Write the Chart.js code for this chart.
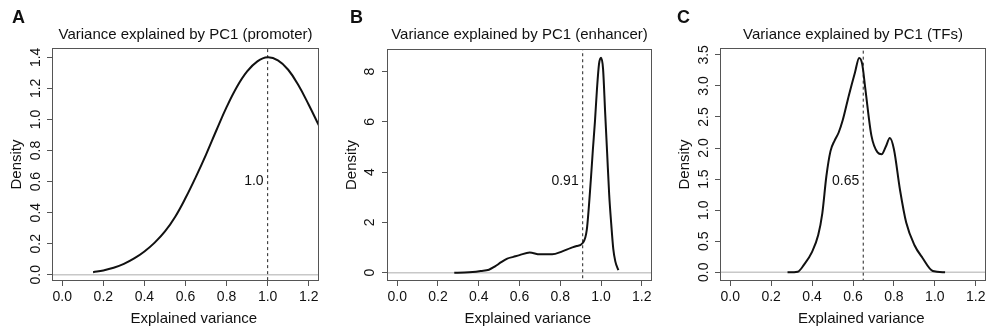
<!DOCTYPE html>
<html>
<head>
<meta charset="utf-8">
<script src="https://cdn.jsdelivr.net/npm/chart.js@4.4.1/dist/chart.umd.min.js"></script>
<style>
  body { margin: 0; background: #fff; }
  #wrap { position: relative; width: 990px; height: 332px; overflow: hidden; }
  .panel { position: absolute; top: 0; width: 330px; height: 332px; }
</style>
</head>
<body>
<div id="wrap">
  <div class="panel" style="left:0px"><canvas id="chartA"></canvas></div>
  <div class="panel" style="left:330px"><canvas id="chartB"></canvas></div>
  <div class="panel" style="left:660px"><canvas id="chartC"></canvas></div>
</div>
<script>
// data
const xTicks = [0, 0.2, 0.4, 0.6, 0.8, 1.0, 1.2];

const promoterX = [0.15, 0.2, 0.25, 0.3, 0.35, 0.4, 0.45, 0.5, 0.55, 0.6, 0.65, 0.7, 0.75, 0.8, 0.85, 0.9, 0.95, 1.0, 1.05, 1.1, 1.15, 1.2, 1.25];
const promoterY = [0.017, 0.028, 0.045, 0.07, 0.105, 0.15, 0.207, 0.279, 0.374, 0.494, 0.629, 0.774, 0.929, 1.079, 1.209, 1.309, 1.374, 1.40, 1.38, 1.32, 1.22, 1.095, 0.96];
const promoterTicks = [0, 0.2, 0.4, 0.6, 0.8, 1.0, 1.2, 1.4];

const enhancerX = [0.28, 0.33, 0.37, 0.41, 0.45, 0.48, 0.51, 0.54, 0.57, 0.60, 0.65, 0.70, 0.76, 0.81, 0.85, 0.88, 0.91, 0.93, 0.95, 0.96, 0.97, 0.98, 0.99, 1.00, 1.01, 1.02, 1.03, 1.04, 1.05, 1.06, 1.07, 1.085];
const enhancerY = [0, 0.01, 0.03, 0.07, 0.12, 0.25, 0.42, 0.56, 0.63, 0.70, 0.80, 0.73, 0.73, 0.85, 0.98, 1.06, 1.18, 1.7, 3.7, 4.9, 6.0, 7.3, 8.3, 8.55, 8.1, 6.4, 4.75, 3.1, 1.94, 0.95, 0.45, 0.1];
const enhancerTicks = [0, 2, 4, 6, 8];

const tfX = [0.28, 0.33, 0.36, 0.40, 0.43, 0.45, 0.47, 0.49, 0.51, 0.53, 0.55, 0.58, 0.61, 0.63, 0.645, 0.66, 0.69, 0.72, 0.74, 0.76, 0.78, 0.80, 0.83, 0.86, 0.90, 0.94, 0.99, 1.05];
const tfY = [0, 0.01, 0.12, 0.33, 0.6, 0.95, 1.55, 1.95, 2.12, 2.25, 2.45, 2.85, 3.22, 3.45, 3.35, 2.96, 2.2, 1.93, 1.9, 2.02, 2.16, 1.98, 1.32, 0.8, 0.44, 0.23, 0.02, 0];
const tfTicks = [0, 0.5, 1.0, 1.5, 2.0, 2.5, 3.0, 3.5];

const medians = [1.0, 0.91, 0.65];
const medianLabels = ['1.0', '0.91', '0.65'];
const titles = ['Variance explained by PC1 (promoter)', 'Variance explained by PC1 (enhancer)', 'Variance explained by PC1 (TFs)'];
const letters = ['A', 'B', 'C'];

Chart.defaults.font.family = '"Liberation Sans", Arial, Helvetica, sans-serif';
Chart.defaults.color = '#111';

const rBox = {
  id: 'rBox',
  afterDatasetsDraw(chart, args, o) {
    const {ctx, chartArea: a, scales} = chart;
    ctx.save();
    ctx.strokeStyle = '#555';
    ctx.lineWidth = 1;
    ctx.strokeRect(Math.round(a.left) + 0.5, Math.round(a.top) + 0.5, Math.round(a.width) - 1, Math.round(a.height) - 1);
    ctx.fillStyle = '#111';
    ctx.font = '14px "Liberation Sans", Arial, sans-serif';
    ctx.textAlign = 'right';
    ctx.textBaseline = 'middle';
    ctx.fillText(o.label, scales.x.getPixelForValue(o.median) - 4, scales.y.getPixelForValue(o.labelY));
    ctx.font = 'bold 18px "Liberation Sans", Arial, sans-serif';
    ctx.textAlign = 'left';
    ctx.textBaseline = 'alphabetic';
    ctx.fillText(o.letter, o.letterX, 23);
    ctx.restore();
  }
};

function makePanel(id, i, xs, ys, yTicks, fmt, lay) {
  const curve = xs.map((x, k) => ({x: x, y: ys[k]}));
  new Chart(document.getElementById(id), {
    type: 'line',
    data: {
      datasets: [
        {data: curve, borderColor: '#111', borderWidth: 2, pointRadius: 0,
          cubicInterpolationMode: lay.smooth ? 'default' : 'monotone', tension: 0.4, order: 0},
        {data: [{x: medians[i], y: -100}, {x: medians[i], y: 100}], borderColor: '#222', borderWidth: 1, borderDash: [3, 3], pointRadius: 0, order: 1},
        {data: [{x: -1, y: 0}, {x: 2, y: 0}], borderColor: '#c8c8c8', borderWidth: 1.5, pointRadius: 0, order: 2}
      ]
    },
    plugins: [rBox],
    options: {
      responsive: true,
      maintainAspectRatio: false,
      animation: false,
      events: [],
      layout: {padding: {left: 0, right: lay.right, top: 0, bottom: 0}},
      plugins: {
        legend: {display: false},
        tooltip: {enabled: false},
        title: {display: true, text: titles[i], fullSize: false, color: '#111',
          font: {size: 15, weight: 'normal'}, padding: {top: 26, bottom: lay.titleBottom}},
        rBox: {label: medianLabels[i], median: medians[i], labelY: lay.labelY, letter: letters[i], letterX: lay.letterX}
      },
      scales: {
        x: {
          type: 'linear', min: -0.05, max: 1.25,
          afterBuildTicks: s => { s.ticks = xTicks.map(v => ({value: v})); },
          afterFit: s => { s.height = 51; },
          grid: {drawOnChartArea: false, drawTicks: true, tickLength: 5, color: '#555'},
          border: {display: false},
          ticks: {callback: v => v.toFixed(1), font: {size: 14}, color: '#111', padding: 3, maxRotation: 0, autoSkip: false},
          // R centres this a little right of the box; leading spaces nudge it over
          title: {display: true, text: '    Explained variance', font: {size: 15}, color: '#111', padding: {top: 0, bottom: 4}}
        },
        y: {
          type: 'linear', min: lay.yMin, max: lay.yMax,
          afterBuildTicks: s => { s.ticks = yTicks.map(v => ({value: v})); },
          afterFit: s => { s.width = lay.yWidth; },
          grid: {drawOnChartArea: false, drawTicks: true, tickLength: 5, color: '#555'},
          border: {display: false},
          ticks: {callback: fmt, font: {size: 14}, color: '#111', padding: lay.tickPad, minRotation: 90, maxRotation: 90, crossAlign: 'center', autoSkip: false},
          title: {display: true, text: 'Density', font: {size: 15}, color: '#111', padding: {top: lay.yWidth - 44, bottom: 0}}
        }
      }
    }
  });
}

makePanel('chartA', 0, promoterX, promoterY, promoterTicks, v => v.toFixed(1),
  {smooth: true, right: 11, titleBottom: 4, yWidth: 52, tickPad: 1.3, yMin: -0.04, yMax: 1.46, labelY: 0.6, letterX: 12});
makePanel('chartB', 1, enhancerX, enhancerY, enhancerTicks, v => v.toFixed(0),
  {smooth: false, right: 8, titleBottom: 5, yWidth: 57, tickPad: 8, yMin: -0.33, yMax: 8.9, labelY: 3.65, letterX: 20});
makePanel('chartC', 2, tfX, tfY, tfTicks, v => v.toFixed(1),
  {smooth: false, right: 4, titleBottom: 4, yWidth: 60, tickPad: 1.3, yMin: -0.14, yMax: 3.61, labelY: 1.47, letterX: 17});
</script>
</body>
</html>
